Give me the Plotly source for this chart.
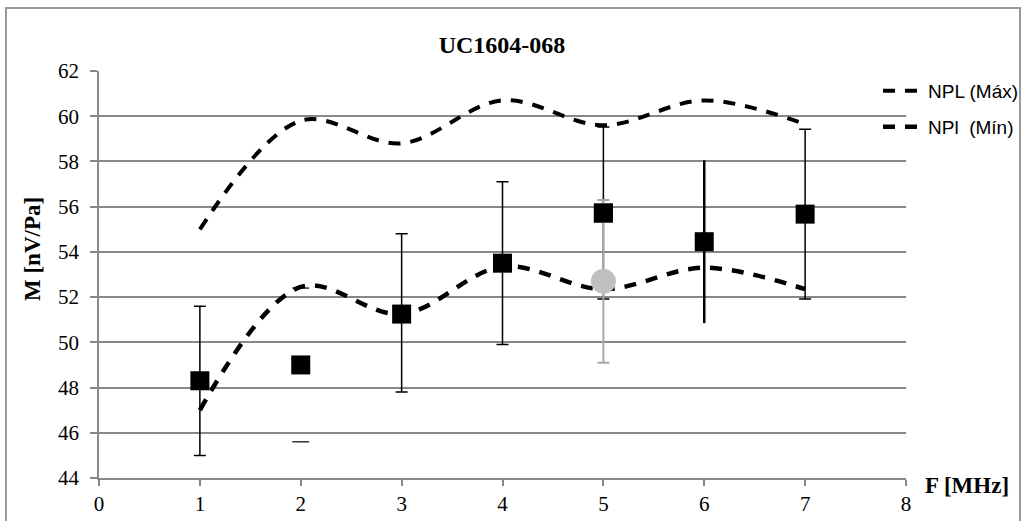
import plotly.graph_objects as go

# Data
freq = [1, 2, 3, 4, 5, 6, 7]
npl_max = [55.0, 59.8, 58.8, 60.7, 59.6, 60.7, 59.65]
npl_min = [47.0, 52.45, 51.25, 53.35, 52.35, 53.3, 52.35]

# measured points with error bars (black squares)
m_x_a = [1, 3, 4, 5, 7]
m_y_a = [48.3, 51.25, 53.5, 55.72, 55.67]
m_up_a = [3.3, 3.55, 3.6, 3.8, 3.75]
m_dn_a = [3.3, 3.45, 3.6, 3.8, 3.75]

# point at 2 MHz (only caps drawn)
m_x_b = [2]
m_y_b = [49.0]
caps_b = [45.6, 52.4]

# point at 6 MHz (bar without caps)
m_x_c = [6]
m_y_c = [54.45]
m_err_c = [3.6]

# grey circle at 5 MHz
g_x = [5]
g_y = [52.7]
g_err = [3.6]

X0, X1, Y0, Y1 = 99, 906, 71, 478
W, H = 1024, 521

def px(x):
    return (x - X0) / (X1 - X0)

def py(y):
    return (Y1 - y) / (Y1 - Y0)

fig = go.Figure()

fig.add_trace(go.Scatter(x=freq, y=npl_max, mode="lines", name="NPL (Máx)", legend="legend",
                         line=dict(color="black", width=4, dash="12px,10px", shape="spline", smoothing=1.0)))
fig.add_trace(go.Scatter(x=freq, y=npl_min, mode="lines", name="NPl  (Mín)", legend="legend2",
                         line=dict(color="black", width=4.5, dash="12px,10px", shape="spline", smoothing=1.0)))

fig.add_trace(go.Scatter(x=m_x_a, y=m_y_a, mode="markers", showlegend=False,
                         marker=dict(symbol="square", size=19, color="black"),
                         error_y=dict(type="data", array=m_up_a, arrayminus=m_dn_a, symmetric=False,
                                      color="black", thickness=1.5, width=6)))
fig.add_trace(go.Scatter(x=g_x, y=g_y, mode="markers", showlegend=False,
                         marker=dict(symbol="circle", size=25, color="#c0c0c0"),
                         error_y=dict(type="data", array=g_err, color="#a8a8a8", thickness=2, width=6)))
fig.add_trace(go.Scatter(x=[5], y=[m_y_a[3]], mode="markers", showlegend=False,
                         marker=dict(symbol="square", size=19, color="black")))
fig.add_trace(go.Scatter(x=m_x_c, y=m_y_c, mode="markers", showlegend=False,
                         marker=dict(symbol="square", size=19, color="black"),
                         error_y=dict(type="data", array=m_err_c, color="black", thickness=2.5, width=0)))
fig.add_trace(go.Scatter(x=m_x_b, y=m_y_b, mode="markers", showlegend=False,
                         marker=dict(symbol="square", size=19, color="black")))
fig.add_trace(go.Scatter(x=[m_x_b[0]] * len(caps_b), y=caps_b, mode="markers", showlegend=False,
                         marker=dict(symbol="line-ew", size=12, line=dict(color="black", width=1.2))))

serif = "Liberation Serif, Times New Roman, serif"
sans = "Liberation Sans, Arial, sans-serif"

legend_common = dict(xanchor="left", yanchor="middle", bgcolor="rgba(0,0,0,0)",
                     font=dict(family=sans, size=19, color="black"), itemwidth=40)

fig.update_layout(
    width=W, height=H,
    margin=dict(l=X0, r=W - X1, t=Y0, b=H - Y1, autoexpand=False),
    paper_bgcolor="white", plot_bgcolor="white",
    title=dict(text="<b>UC1604-068</b>", x=502 / W, xanchor="center",
               y=1 - 45 / H, yanchor="middle", font=dict(family=serif, size=24, color="black")),
    xaxis=dict(range=[0, 8], dtick=1, showgrid=False, showline=True, linecolor="#888888", linewidth=1.5,
               ticks="outside", ticklen=6, tickcolor="#888888", tickwidth=1.5,
               tickfont=dict(family=serif, size=21, color="black"), zeroline=False),
    yaxis=dict(range=[44, 62], dtick=2, showgrid=True, gridcolor="#888888", gridwidth=1.5,
               showline=True, linecolor="#888888", linewidth=1.5,
               ticks="outside", ticklen=7, tickcolor="#888888", tickwidth=1.5, ticklabelstandoff=7,
               tickfont=dict(family=serif, size=21, color="black"), zeroline=False),
    legend=dict(x=px(878), y=py(91), **legend_common),
    legend2=dict(x=px(878), y=py(127), **legend_common),
    showlegend=True,
)

fig.add_annotation(text="<b>M [nV/Pa]</b>", xref="paper", yref="paper", x=px(33), y=py(249),
                   xanchor="center", yanchor="middle", textangle=-90, showarrow=False,
                   font=dict(family=serif, size=23, color="black"))

fig.add_annotation(text="<b>F [MHz]</b>", xref="paper", yref="paper", x=px(923), y=py(485),
                   xanchor="left", yanchor="middle", showarrow=False,
                   font=dict(family=serif, size=23, color="black"))

fig.add_shape(type="rect", xref="paper", yref="paper", x0=px(6), x1=px(1020), y0=py(530), y1=py(8),
              line=dict(color="#999999", width=2), layer="below")

fig.write_html("out.html")
